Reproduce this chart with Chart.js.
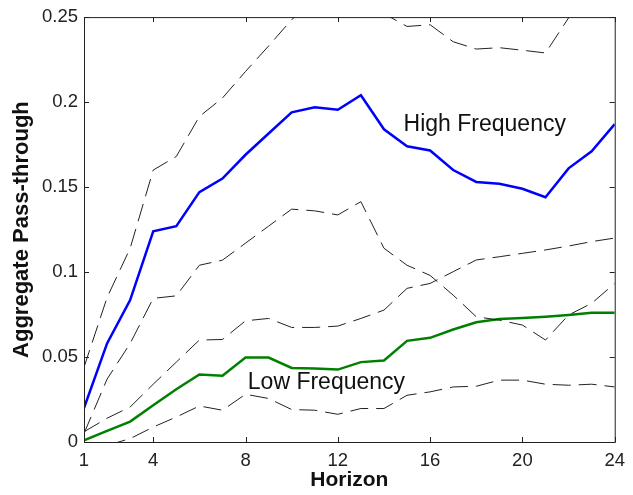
<!DOCTYPE html>
<html>
<head>
<meta charset="utf-8">
<script src="https://cdn.jsdelivr.net/npm/chart.js@4/dist/chart.umd.min.js"></script>
<style>
  html, body { margin: 0; padding: 0; background: #fff; }
  #wrap { width: 633px; height: 495px; }
</style>
</head>
<body>
<div id="wrap"><canvas id="pt-chart"></canvas></div>
<script>
var horizon = [1, 2, 3, 4, 5, 6, 7, 8, 9, 10, 11, 12, 13, 14, 15, 16, 17, 18, 19, 20, 21, 22, 23, 24];

var highFreq = [0.020, 0.058, 0.0835, 0.124, 0.127, 0.147, 0.155, 0.169, 0.1815, 0.194, 0.197, 0.1955,
                0.204, 0.184, 0.174, 0.1715, 0.160, 0.153, 0.152, 0.149, 0.144, 0.161, 0.171, 0.187];
var highUpper = [0.044, 0.085, 0.114, 0.160, 0.168, 0.1915, 0.2024, 0.218, 0.233, 0.2485, 0.260, 0.265,
                 0.262, 0.252, 0.2445, 0.2455, 0.2355, 0.2312, 0.232, 0.2305, 0.2289, 0.2495, 0.270, 0.290];
var highLower = [0.005, 0.037, 0.058, 0.0845, 0.086, 0.104, 0.107, 0.117, 0.127, 0.137, 0.136, 0.1336,
                 0.1414, 0.114, 0.104, 0.098, 0.0864, 0.0737, 0.0717, 0.0688, 0.060, 0.0747, 0.0816, 0.0933];

var lowFreq = [0.001, 0.0065, 0.012, 0.0216, 0.031, 0.0397, 0.039, 0.0497, 0.0497, 0.0436, 0.0433, 0.0426,
               0.047, 0.048, 0.0595, 0.0613, 0.0662, 0.0704, 0.0723, 0.0729, 0.0737, 0.0747, 0.076, 0.076];
var lowUpper = [0.006, 0.014, 0.0206, 0.034, 0.047, 0.060, 0.0603, 0.0713, 0.0727, 0.0674, 0.0674, 0.0682,
                0.0727, 0.0776, 0.0904, 0.0933, 0.1002, 0.1071, 0.109, 0.111, 0.113, 0.1153, 0.1179, 0.120];
var lowLower = [-0.008, -0.002, 0.002, 0.0088, 0.0147, 0.0212, 0.0187, 0.0281, 0.0256, 0.0191, 0.0187, 0.0163,
                0.0197, 0.0197, 0.0275, 0.0295, 0.0324, 0.0328, 0.0364, 0.0364, 0.034, 0.0334, 0.034, 0.0324];

var xTicks = [1, 4, 8, 12, 16, 20, 24];
var yTicks = [0, 0.05, 0.1, 0.15, 0.2, 0.25];
var yTickLabels = ['0', '0.05', '0.1', '0.15', '0.2', '0.25'];

var notes = [
  { text: 'High Frequency', x: 14.85, y: 0.1827 },
  { text: 'Low Frequency', x: 8.1, y: 0.0309 }
];

function pts(vals) {
  return horizon.map(function(h, i) { return { x: h, y: vals[i] }; });
}

function solid(vals, color) {
  return { data: pts(vals), borderColor: color, borderWidth: 2.5, pointRadius: 0, tension: 0, fill: false };
}

function dashed(vals) {
  return { data: pts(vals), borderColor: '#222', borderWidth: 1, borderDash: [18, 8], pointRadius: 0, tension: 0, fill: false };
}

// box round the plot, MATLAB style ticks pointing inward, and the text labels
var boxPlugin = {
  id: 'box',
  afterDatasetsDraw: function(chart) {
    var ctx = chart.ctx, a = chart.chartArea;
    var xs = chart.scales.x, ys = chart.scales.y;
    var len = 5;
    ctx.save();
    ctx.strokeStyle = '#222';
    ctx.lineWidth = 1;
    ctx.strokeRect(a.left + 0.5, a.top + 0.5, a.right - a.left, a.bottom - a.top);
    ctx.beginPath();
    xTicks.forEach(function(v) {
      var px = Math.round(xs.getPixelForValue(v)) + 0.5;
      ctx.moveTo(px, a.bottom); ctx.lineTo(px, a.bottom - len);
      ctx.moveTo(px, a.top); ctx.lineTo(px, a.top + len);
    });
    yTicks.forEach(function(v) {
      var py = Math.round(ys.getPixelForValue(v)) + 0.5;
      ctx.moveTo(a.left, py); ctx.lineTo(a.left + len, py);
      ctx.moveTo(a.right, py); ctx.lineTo(a.right - len, py);
    });
    ctx.stroke();

    ctx.fillStyle = '#111';
    ctx.font = '23px "Liberation Sans", Arial, sans-serif';
    ctx.textBaseline = 'alphabetic';
    ctx.textAlign = 'left';
    notes.forEach(function(n) {
      ctx.fillText(n.text, xs.getPixelForValue(n.x), ys.getPixelForValue(n.y));
    });
    ctx.restore();
  }
};

var ctx = document.getElementById('pt-chart');
new Chart(ctx, {
  type: 'line',
  data: {
    datasets: [
      dashed(highUpper),
      dashed(highLower),
      dashed(lowUpper),
      dashed(lowLower),
      solid(highFreq, '#0000ff'),
      solid(lowFreq, '#008000')
    ]
  },
  options: {
    responsive: true,
    maintainAspectRatio: false,
    animation: false,
    layout: { padding: { top: 17, right: 11, left: 0, bottom: 0 } },
    plugins: { legend: { display: false }, tooltip: { enabled: false } },
    scales: {
      x: {
        type: 'linear',
        min: 1,
        max: 24,
        afterBuildTicks: function(scale) {
          scale.ticks = xTicks.map(function(v) { return { value: v }; });
        },
        afterFit: function(scale) { scale.height = 53; },
        grid: { display: false, drawTicks: false },
        border: { display: false },
        ticks: {
          color: '#222',
          padding: 8,
          maxRotation: 0,
          font: { family: '"Liberation Sans", Arial, sans-serif', size: 18.5 },
          callback: function(v) { return String(v); }
        },
        title: {
          display: true,
          text: 'Horizon',
          color: '#111',
          padding: { top: 0, bottom: 2 },
          font: { family: '"Liberation Sans", Arial, sans-serif', size: 21, weight: 'bold' }
        }
      },
      y: {
        min: 0,
        max: 0.25,
        afterBuildTicks: function(scale) {
          scale.ticks = yTicks.map(function(v) { return { value: v }; });
        },
        afterFit: function(scale) { scale.width = 84; },
        grid: { display: false, drawTicks: false },
        border: { display: false },
        ticks: {
          color: '#222',
          padding: 6,
          font: { family: '"Liberation Sans", Arial, sans-serif', size: 18.5 },
          callback: function(v, i) { return yTickLabels[i]; }
        },
        title: {
          display: true,
          text: 'Aggregate Pass-through',
          color: '#111',
          padding: { top: 9, bottom: 0 },
          font: { family: '"Liberation Sans", Arial, sans-serif', size: 22, weight: 'bold' }
        }
      }
    }
  },
  plugins: [boxPlugin]
});
</script>
</body>
</html>
